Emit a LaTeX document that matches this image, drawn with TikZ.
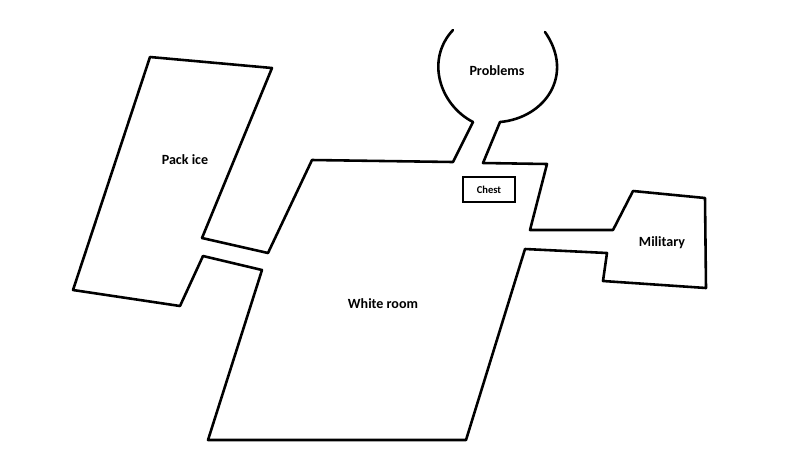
\documentclass[tikz,border=0pt]{standalone}
\usepackage{fontspec}
\setmainfont{Carlito}
\begin{document}
\begin{tikzpicture}[x=0.03cm,y=-0.03cm]
\tikzset{wall/.style={line width=2.2pt, line join=round, line cap=round},
  room/.style={font=\bfseries\large}}
\useasboundingbox (0,0) rectangle (789,463);
% pack ice
\draw[wall] (202,238) -- (272,68) -- (150,57) -- (73,290) -- (180,306) -- (203,256);
% white room with corridors
\draw[wall] (203,256) -- (262,270) -- (208,440) -- (466,440) -- (525,249)
  -- (607,253) -- (603,281) -- (706,288) -- (705,198) -- (633,191) -- (613,230)
  -- (530,230) -- (547,164) -- (483,163) -- (500,122);
\draw[wall] (202,238) -- (268,253) -- (312,160) -- (453,162) -- (473,122);
% problems
\draw[wall] (473,122) .. controls (440,105) and (425,60) .. (453,30);
\draw[wall] (500,122) .. controls (545,118) and (575,75) .. (545,32);
% chest
\draw[line width=1.6pt] (463,177) rectangle (515,202);
\node[font=\bfseries\small] (chest) at (489,189.5) {Chest};
\node[room] (packice) at (185,160) {Pack ice};
\node[room] (white) at (383,304) {White room};
\node[room] (problems) at (497,71) {Problems};
\node[room] (military) at (662,243) {Military};
\end{tikzpicture}
\end{document}
